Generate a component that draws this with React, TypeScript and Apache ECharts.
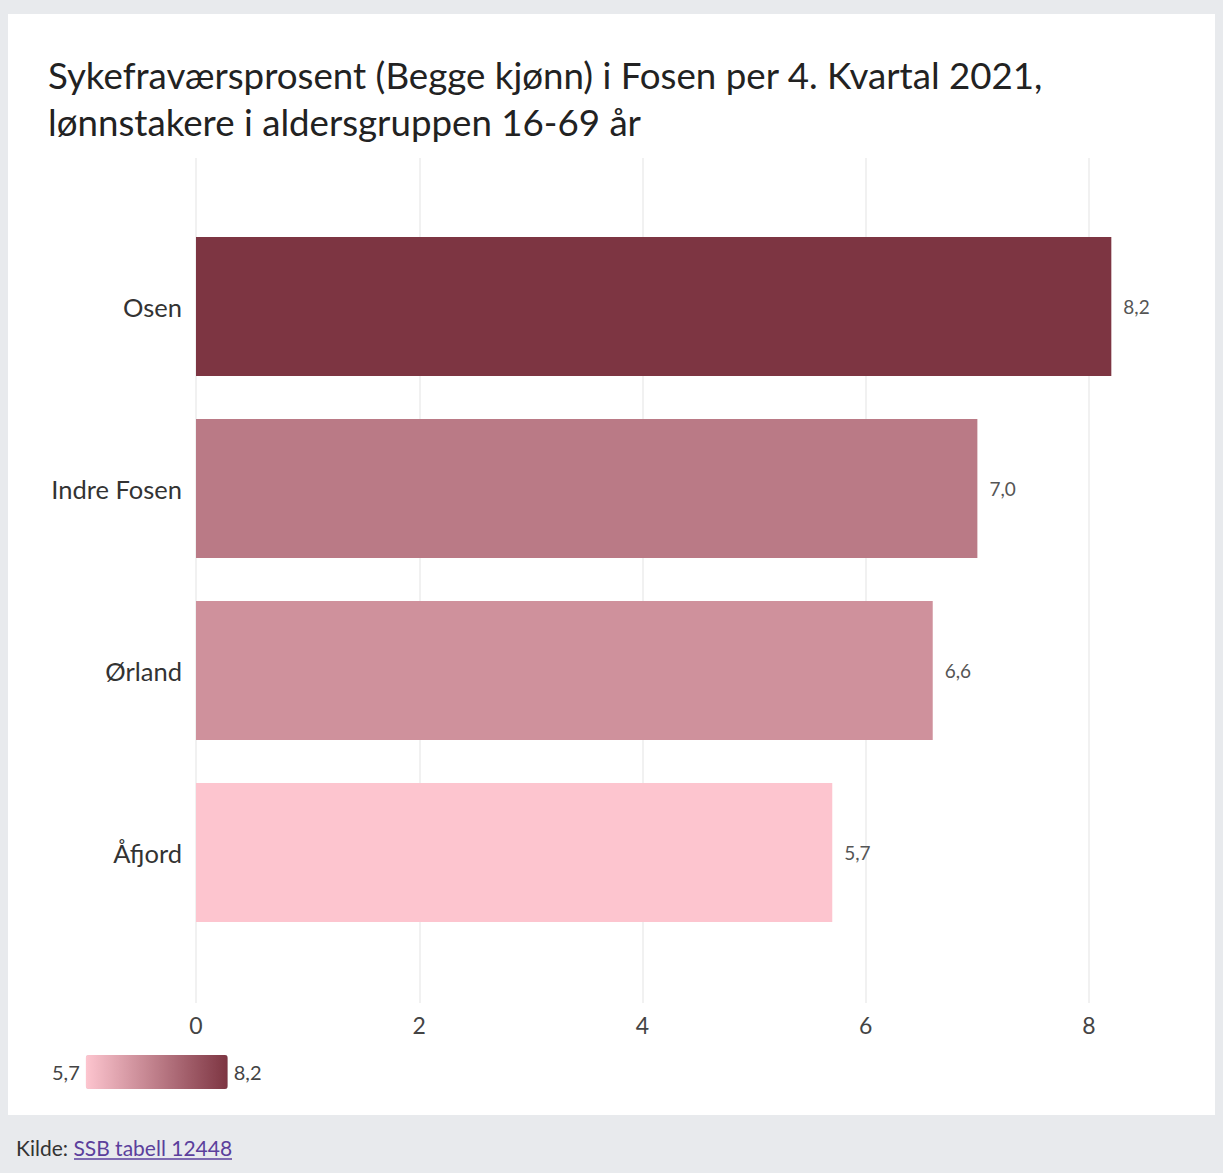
import React, { useEffect, useRef } from "react";
import * as echarts from "echarts";

const categories = ["Osen", "Indre Fosen", "Ørland", "Åfjord"];
const values = [8.2, 7.0, 6.6, 5.7];
const xTicks = [0, 2, 4, 6, 8];
const titleLines = [
  "Sykefraværsprosent (Begge kjønn) i Fosen per 4. Kvartal 2021,",
  "lønnstakere i aldersgruppen 16-69 år",
];
const legendRange = [5.7, 8.2];
const sourceLabel = "Kilde: ";
const sourceLink = "SSB tabell 12448";

const FONT = "Lato, 'Open Sans', sans-serif";
const fmt = (v: number) => v.toFixed(1).replace(".", ",");

export default function App() {
  const ref = useRef<HTMLDivElement>(null);
  useEffect(() => {
    if (!ref.current) return;
    const chart = echarts.init(ref.current, undefined, { renderer: "svg" });
    const option: any = {
      animation: false,
      backgroundColor: "#e8eaed",
      textStyle: { fontFamily: FONT },
      graphic: [
        {
          type: "rect",
          shape: { x: 8, y: 14, width: 1207, height: 1101 },
          style: { fill: "#ffffff" },
          z: -10,
          silent: true,
        },
        {
          type: "text",
          left: 48,
          top: 51,
          style: {
            text: titleLines.join("\n"),
            font: `36.7px ${FONT}`,
            fill: "#222222",
            lineHeight: 47,
          },
        },
        {
          type: "text",
          left: 16,
          top: 1137,
          style: {
            text: `{a|${sourceLabel}}{b|${sourceLink}}`,
            rich: {
              a: { fontSize: 21, fill: "#333333", fontFamily: FONT },
              b: { fontSize: 21, fill: "#5b3f9c", fontFamily: FONT },
            },
          },
        },
        {
          type: "line",
          shape: { x1: 74, y1: 1159, x2: 232, y2: 1159 },
          style: { stroke: "#5b3f9c", lineWidth: 1.5 },
        },
      ],
      grid: [
        { left: 196, top: 215.5, width: (1089 - 196) * 8.2 / 8, height: 728, containLabel: false },
        { left: 196, top: 158, width: 893, height: 845, containLabel: false },
      ],
      xAxis: [
        { gridIndex: 0, type: "value", min: 0, max: 8.2, show: false },
        {
          gridIndex: 1,
          type: "value",
          min: 0,
          max: 8,
          interval: 2,
          axisLine: { show: false },
          axisTick: { show: false },
          splitLine: { show: true, lineStyle: { color: "#ececec", width: 1.5 } },
          axisLabel: {
            color: "#444444",
            fontSize: 23,
            margin: 10,
            fontFamily: FONT,
            formatter: (v: number) => (xTicks.includes(v) ? String(v) : ""),
          },
        },
      ],
      yAxis: [
        {
          gridIndex: 0,
          type: "category",
          data: categories,
          inverse: true,
          axisLine: { show: false },
          axisTick: { show: false },
          splitLine: { show: false },
          axisLabel: { color: "#333333", fontSize: 25.5, margin: 14, fontFamily: FONT },
        },
        { gridIndex: 1, type: "category", data: categories, show: false },
      ],
      visualMap: {
        type: "continuous",
        min: legendRange[0],
        max: legendRange[1],
        seriesIndex: 0,
        dimension: 0,
        orient: "horizontal",
        left: 37,
        top: 1040,
        itemWidth: 34,
        itemHeight: 142,
        text: [fmt(legendRange[1]), fmt(legendRange[0])],
        textGap: 6,
        textStyle: { color: "#444444", fontSize: 20, fontFamily: FONT },
        calculable: false,
        inRange: { color: ["#fdc5cf", "#7d3542"] },
      },
      series: [
        {
          type: "bar",
          xAxisIndex: 0,
          yAxisIndex: 0,
          data: values.map((v, i) => [v, categories[i]]),
          barWidth: 139,
          label: {
            show: true,
            position: "right",
            distance: 12,
            color: "#555555",
            fontSize: 19,
            fontFamily: FONT,
            formatter: (p: any) => fmt(p.value[0]),
          },
        },
      ],
    };
    chart.setOption(option);
    return () => chart.dispose();
  }, []);
  return (
    <div
      ref={ref}
      style={{ position: "absolute", left: 0, top: 0, width: 1223, height: 1173 }}
    />
  );
}
